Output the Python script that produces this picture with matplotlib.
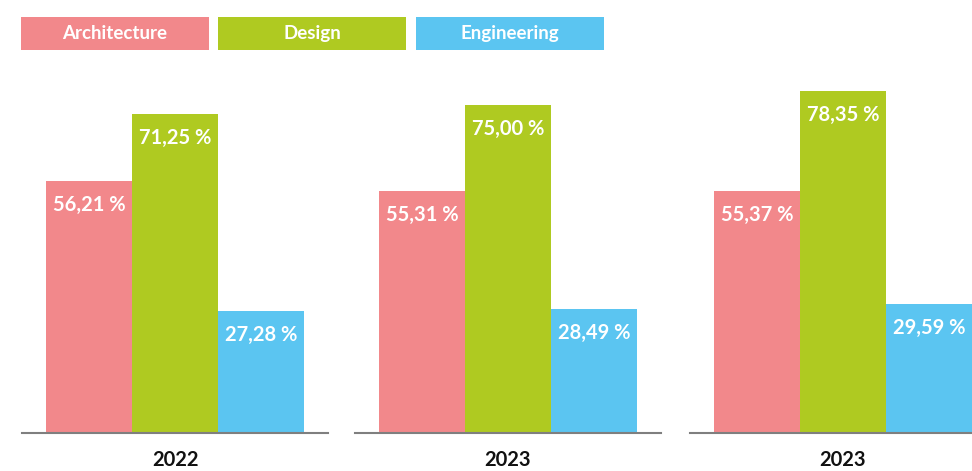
import matplotlib.pyplot as plt
from matplotlib.patches import Rectangle

# values per year group (%)
years = ["2022", "2023", "2023"]
categories = ["Architecture", "Design", "Engineering"]
architecture = [56.21, 55.31, 55.37]
design = [71.25, 75.00, 78.35]
engineering = [27.28, 28.49, 29.59]

colors = ["#F2888B", "#AFCA21", "#5BC5F1"]

plt.rcParams.update({
    "font.family": ["Lato", "DejaVu Sans"],
    "font.size": 14,
})

W, H = 972, 471
fig = plt.figure(figsize=(W / 100, H / 100), dpi=100)

def px_box(left, top, width, height):
    # pixel box (origin top-left) -> figure fraction
    return [left / W, (H - top - height) / H, width / W, height / H]

# each group gets its own little axes with its own baseline
axes_left = [22, 355, 690]
axes_w = 306
axes_top, axes_bottom = 60, 433
y_max = [83.3, 85.4, 85.4]
bar_w = 1.0
pad = 24 / 86

for g in range(3):
    ax = fig.add_axes(px_box(axes_left[g], axes_top, axes_w, axes_bottom - axes_top))
    vals = [architecture[g], design[g], engineering[g]]
    ax.bar(range(3), vals, width=bar_w, color=colors, zorder=2)
    ax.set_xlim(-0.5 - pad, 2.5 + pad)
    ax.set_ylim(0, y_max[g])
    for i, v in enumerate(vals):
        txt = f"{v:.2f}".replace(".", ",") + " %"
        ax.annotate(txt, (i, v), xytext=(0, -17.3), textcoords="offset points",
                    ha="center", va="center", color="white",
                    fontsize=14.5, fontweight="bold", zorder=3)
    ax.annotate(years[g], (1, 0), xycoords=("data", "axes fraction"),
                xytext=(0, -19.5), textcoords="offset points",
                ha="center", va="center", color="#111111",
                fontsize=14.5, fontweight="bold")
    for side in ["top", "left", "right"]:
        ax.spines[side].set_visible(False)
    ax.spines["bottom"].set_color("#7f7f7f")
    ax.spines["bottom"].set_linewidth(1.5)
    ax.spines["bottom"].set_zorder(4)
    ax.set_xticks([])
    ax.set_yticks([])
    ax.patch.set_alpha(0)

# legend as coloured boxes along the top
leg_left = [21, 218, 416]
leg_w, leg_top, leg_h = 188, 17, 33
for i, name in enumerate(categories):
    x0, y0, w, h = px_box(leg_left[i], leg_top, leg_w, leg_h)
    fig.patches.append(Rectangle((x0, y0), w, h, transform=fig.transFigure,
                                 facecolor=colors[i], edgecolor="none"))
    fig.text(x0 + w / 2, y0 + h / 2, name, ha="center", va="center",
             color="white", fontsize=13.5, fontweight="bold")

fig.savefig("out.png", dpi=100)
